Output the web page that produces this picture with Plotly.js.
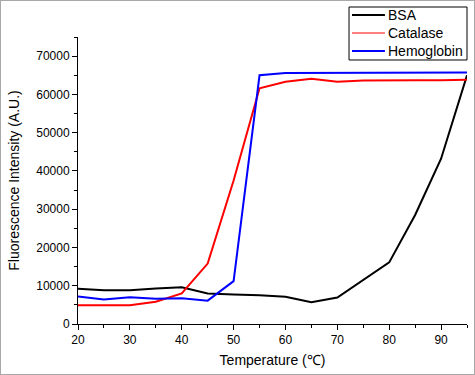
<!DOCTYPE html>
<html><head><meta charset="utf-8">
<script src="https://cdn.plot.ly/plotly-3.0.1.min.js"></script>
<style>
html,body{margin:0;padding:0;background:#fff;}
#chart{width:475px;height:375px;box-sizing:border-box;border:1px solid #a8a8a8;}
</style></head>
<body><div id="chart"></div>
<script>
const temperature = [20,25,30,35,40,45,50,55,60,65,70,75,80,85,90,95];
const bsa        = [9200,8800,8800,9300,9600,8000,7700,7500,7100,5700,6900,11500,16100,28500,43200,65000];
const catalase   = [4900,4900,4900,5800,8000,15800,37500,61600,63300,64100,63300,63600,63700,63700,63700,63800];
const hemoglobin = [7200,6400,7000,6600,6700,6100,11200,65000,65600,65600,65600,65600,65600,65600,65600,65700];
const seriesNames = ["BSA","Catalase","Hemoglobin"];
const seriesColors = ["#000000","#ff0000","#0000ff"];
const seriesData = [bsa, catalase, hemoglobin];

const traces = seriesData.map((d,i)=>({
  x: temperature, y: d, type:'scatter', mode:'lines', name: seriesNames[i],
  line:{color: seriesColors[i], width: 2}, showlegend:false
}));

const font = {family:'"Liberation Sans", Arial, sans-serif', color:'#000'};

// Hand-built legend box (paper coords relative to plot area)
const legendWidths = [2, 1.2, 2];
const rowY = [1.0767, 1.0139, 0.9512];
const shapes = [{type:'rect', xref:'paper', yref:'paper', x0:0.6967, x1:1.0, y0:0.9199, y1:1.1045,
                 line:{color:'#000', width:1}, fillcolor:'#fff', layer:'above'}];
const annotations = [];
seriesNames.forEach((n,i)=>{
  shapes.push({type:'line', xref:'paper', yref:'paper', x0:0.7044, x1:0.789, y0:rowY[i], y1:rowY[i],
               line:{color:seriesColors[i], width:legendWidths[i]}, layer:'above'});
  annotations.push({xref:'paper', yref:'paper', x:0.7918, y:rowY[i], xanchor:'left', yanchor:'middle',
                    text:n, showarrow:false, font:Object.assign({size:14}, font)});
});

const layout = {
  width: 473, height: 373,
  margin:{l:77, r:7, t:36, b:50},
  paper_bgcolor:'#fff', plot_bgcolor:'#fff',
  font: Object.assign({size:12}, font),
  showlegend:false,
  shapes: shapes, annotations: annotations,
  xaxis:{range:[20,95], tickmode:'linear', tick0:20, dtick:10, ticks:'outside', ticklen:5, tickwidth:1,
         tickcolor:'#000', showline:true, linecolor:'#000', linewidth:1, showgrid:false, zeroline:false,
         minor:{ticks:'outside', dtick:5, tick0:20, ticklen:3, tickcolor:'#000', showgrid:false},
         tickfont:Object.assign({size:12}, font),
         title:{text:'Temperature (℃)', font:Object.assign({size:14}, font), standoff:8}},
  yaxis:{range:[0,75000], tickmode:'linear', tick0:0, dtick:10000, ticks:'outside', ticklen:5, tickwidth:1,
         tickcolor:'#000', showline:true, linecolor:'#000', linewidth:1, showgrid:false, zeroline:false,
         minor:{ticks:'outside', dtick:5000, tick0:0, ticklen:3, tickcolor:'#000', showgrid:false},
         tickformat:'d', separatethousands:false,
         tickfont:Object.assign({size:12}, font),
         title:{text:'Fluorescence Intensity (A.U.)', font:Object.assign({size:14}, font), standoff:13}}
};
Plotly.newPlot('chart', traces, layout, {displayModeBar:false, staticPlot:true});
</script></body></html>
